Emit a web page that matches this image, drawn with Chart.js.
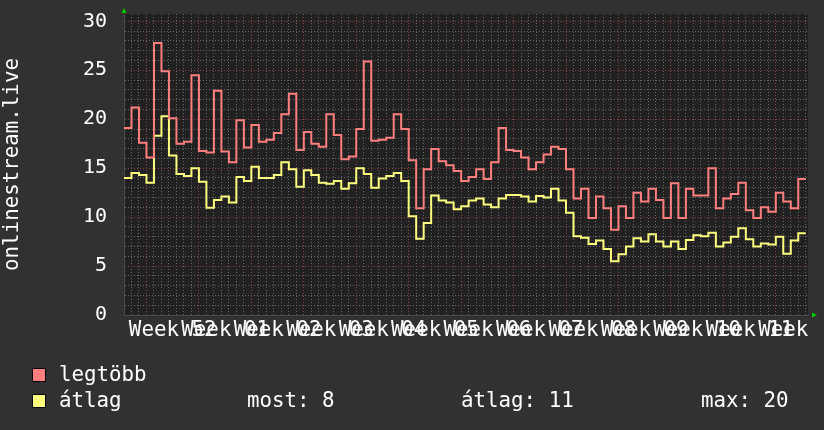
<!DOCTYPE html>
<html>
<head>
<meta charset="utf-8">
<script src="https://cdn.jsdelivr.net/npm/chart.js@4.4.1/dist/chart.umd.min.js"></script>
<style>
  html, body { margin: 0; padding: 0; background: #313131; }
  #wrap { width: 824px; height: 430px; }
</style>
</head>
<body>
<div id="wrap"><canvas id="chart"></canvas></div>
<script>
// napi értékek (91 nap, a W51 hét végétől a W12 elejéig)
const legtobb = [
  19.1, 21.2, 17.6, 16.1, 27.8, 24.9, 20.1, 17.5, 17.7, 24.5,
  16.75, 16.6, 22.9, 16.7, 15.6, 19.9, 17.1, 19.4, 17.7, 17.9,
  18.6, 20.5, 22.6, 16.85, 18.7, 17.5, 17.2, 20.5, 18.4, 15.9,
  16.2, 19.0, 25.9, 17.8, 17.9, 18.1, 20.5, 19.0, 15.8, 10.9,
  14.9, 16.95, 15.7, 15.3, 14.7, 13.7, 14.1, 14.9, 13.9, 15.6,
  19.1, 16.85, 16.75, 16.1, 14.9, 15.6, 16.4, 17.2, 16.95, 14.9,
  11.9, 12.9, 9.9, 12.1, 10.9, 8.7, 11.1, 9.9, 12.5, 11.6,
  12.9, 11.75, 9.9, 13.45, 9.9, 12.9, 12.2, 12.2, 15.0, 10.9,
  11.9, 12.35, 13.5, 10.7, 9.9, 11.0, 10.55, 12.5, 11.6, 10.9,
  13.9
];
const atlag = [
  14.0, 14.5, 14.3, 13.5, 18.3, 20.3, 16.3, 14.4, 14.2, 15.0,
  13.6, 10.95, 11.75, 12.1, 11.5, 14.1, 13.7, 15.15, 14.0, 14.0,
  14.3, 15.6, 14.9, 13.1, 14.8, 14.3, 13.5, 13.4, 13.7, 12.9,
  13.45, 15.0, 14.4, 13.0, 13.95, 14.2, 14.5, 13.7, 10.1, 7.8,
  9.4, 12.2, 11.7, 11.5, 10.8, 11.1, 11.7, 11.9, 11.3, 11.0,
  11.9, 12.25, 12.25, 12.1, 11.6, 12.15, 12.0, 12.9, 11.7, 10.45,
  8.05, 7.9, 7.25, 7.6, 6.75, 5.5, 6.2, 7.0, 7.85, 7.5,
  8.25, 7.5, 7.0, 7.5, 6.75, 7.65, 8.15, 8.05, 8.4, 7.0,
  7.4, 8.0, 8.85, 7.75, 7.0, 7.3, 7.2, 8.0, 6.25, 7.6,
  8.35
];
// az utolsó hét száma már kilóg a képből
const weekLabels = ['Week 52', 'Week 01', 'Week 02', 'Week 03', 'Week 04', 'Week 05', 'Week 06',
  'Week 07', 'Week 08', 'Week 09', 'Week 10', 'Week 11', 'Week   '];
const firstMonday = 3;      // az első hétfő indexe
const yTicks = [0, 5, 10, 15, 20, 25, 30];
const stats = { most: 8, atlag: 11, max: 20 };

const FONT = '"DejaVu Sans Mono", monospace';
const RED = '#ff7f7f';
const YEL = '#ffff7f';
const GRID_MINOR = '#666666';
const GRID_MAJOR = '#8a4444';

// lépcsős vonal: minden érték a saját napját fedi le
function toSteps(arr) {
  const pts = arr.map((v, i) => ({ x: i, y: v }));
  pts.push({ x: arr.length, y: arr[arr.length - 1] });
  return pts;
}

// x tickek: minden nap + hetek közepe a feliratoknak
const xTicks = [];
for (let d = 0; d <= legtobb.length; d++) xTicks.push({ value: d });
weekLabels.forEach((w, k) => xTicks.push({ value: firstMonday + 7 * k + 3.5, label: w }));
xTicks.sort((a, b) => a.value - b.value);

// háttér + zöld nyilak + jelmagyarázat
const rrdLook = {
  id: 'rrdLook',
  beforeDraw(chart) {
    const { ctx, chartArea: a } = chart;
    ctx.save();
    ctx.fillStyle = '#313131';
    ctx.fillRect(0, 0, chart.width, chart.height);
    ctx.fillStyle = '#212121';
    ctx.fillRect(a.left, a.top, a.right - a.left, a.bottom - a.top);
    ctx.restore();
  },
  afterDraw(chart) {
    const { ctx, chartArea: a } = chart;
    ctx.save();
    ctx.fillStyle = '#00cc00';
    ctx.beginPath();
    ctx.moveTo(a.left - 2.5, a.top - 1); ctx.lineTo(a.left + 2.5, a.top - 1); ctx.lineTo(a.left, a.top - 6);
    ctx.fill();
    ctx.beginPath();
    ctx.moveTo(a.right + 4, a.bottom - 2.5); ctx.lineTo(a.right + 4, a.bottom + 2.5); ctx.lineTo(a.right + 9, a.bottom);
    ctx.fill();

    // legenda
    const rows = [{ c: RED, t: 'legtöbb', y: 381 }, { c: YEL, t: 'átlag', y: 407 }];
    ctx.font = '20.8px ' + FONT;
    ctx.textBaseline = 'alphabetic';
    rows.forEach(r => {
      ctx.fillStyle = r.c;
      ctx.fillRect(32, r.y - 13, 14, 14);
      ctx.strokeStyle = '#000';
      ctx.lineWidth = 1;
      ctx.strokeRect(32.5, r.y - 12.5, 13, 13);
      ctx.fillStyle = '#ffffff';
      ctx.fillText(r.t, 59, r.y);
    });
    ctx.fillText('most: ' + stats.most, 247, 407);
    ctx.fillText('átlag: ' + stats.atlag, 461, 407);
    ctx.fillText('max: ' + stats.max, 701, 407);
    ctx.restore();
  }
};

new Chart(document.getElementById('chart'), {
  type: 'line',
  data: {
    datasets: [
      { label: 'legtöbb', data: toSteps(legtobb), borderColor: RED, borderWidth: 2, stepped: true, pointRadius: 0, tension: 0 },
      { label: 'átlag', data: toSteps(atlag), borderColor: YEL, borderWidth: 2, stepped: true, pointRadius: 0, tension: 0 }
    ]
  },
  options: {
    animation: false,
    responsive: true,
    maintainAspectRatio: false,
    color: '#ffffff',
    layout: { padding: { left: 0, top: 14, right: 16, bottom: 85 } },
    plugins: { legend: { display: false }, tooltip: { enabled: false } },
    scales: {
      x: {
        type: 'linear', min: 0, max: 91.3,
        afterBuildTicks: s => { s.ticks = xTicks.map(t => ({ value: t.value })); },
        afterFit: s => { s.height = 30; s.paddingLeft = 0; s.paddingRight = 0; },
        ticks: {
          autoSkip: false, maxRotation: 0, minRotation: 0, padding: 3,
          color: '#ffffff', font: { family: FONT, size: 20.8 },
          callback: (v) => { const t = xTicks.find(t => t.value === v); return t && t.label ? t.label : ''; }
        },
        grid: {
          drawTicks: false, lineWidth: 1,
          color: c => {
            const v = c.tick.value;
            if (!Number.isInteger(v)) return 'rgba(0,0,0,0)';
            return (v - firstMonday) % 7 === 0 ? GRID_MAJOR : GRID_MINOR;
          }
        },
        border: { display: true, color: '#4a4a4a', dash: [1, 2] }
      },
      y: {
        min: 0, max: 30.75,
        afterBuildTicks: s => { const t = []; for (let v = 0; v <= 30; v++) t.push({ value: v }); s.ticks = t; },
        // a tick-felirat ne tolja lejjebb a rajzterületet
        afterFit: s => { s.width = 124; s.paddingTop = 0; s.paddingBottom = 0; },
        ticks: {
          autoSkip: false, padding: 17, color: '#ffffff', font: { family: FONT, size: 20 },
          callback: v => yTicks.includes(v) ? String(v) : ''
        },
        grid: {
          drawTicks: false, lineWidth: 1,
          color: c => c.tick.value % 5 === 0 ? GRID_MAJOR : GRID_MINOR
        },
        border: { display: true, color: '#4a4a4a', dash: [1, 2] },
        title: { display: true, text: 'onlinestream.live', color: '#ffffff', font: { family: FONT, size: 20.8 }, padding: 0 }
      }
    }
  },
  plugins: [rrdLook]
});
</script>
</body>
</html>
